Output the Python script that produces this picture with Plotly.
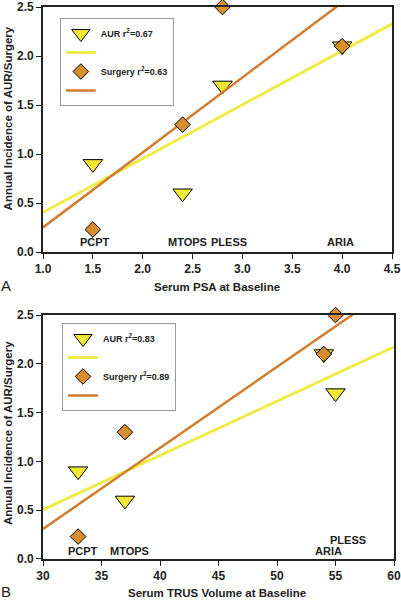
import numpy as np
import plotly.graph_objects as go

# ---------------- data ----------------
studies_a = ["PCPT", "MTOPS", "PLESS", "ARIA"]
psa_baseline = [1.5, 2.4, 2.8, 4.0]
aur_a = [0.9, 0.6, 1.7, 2.1]
surgery_a = [0.23, 1.3, 2.5, 2.1]

studies_b = ["PCPT", "MTOPS", "ARIA", "PLESS"]
trus_volume = [33, 37, 54, 55]
aur_b = [0.9, 0.6, 2.1, 1.7]
surgery_b = [0.23, 1.3, 2.1, 2.5]

legend_a = ["AUR r<sup>2</sup>=0.67", "Surgery r<sup>2</sup>=0.63"]
legend_b = ["AUR r<sup>2</sup>=0.83", "Surgery r<sup>2</sup>=0.89"]

x_range_a = [1.0, 4.5]
x_ticks_a = [1.0, 1.5, 2.0, 2.5, 3.0, 3.5, 4.0, 4.5]
x_range_b = [30, 60]
x_ticks_b = [30, 35, 40, 45, 50, 55, 60]
y_range = [0, 2.5]
y_ticks = [0.0, 0.5, 1.0, 1.5, 2.0, 2.5]

# label anchor x (data units) and vertical pixel offset
label_x_a = [1.52, 2.45, 2.87, 3.98]
label_shift_a = [2, 2, 2, 2]
label_x_b = [33.4, 37.35, 54.4, 56.1]
label_shift_b = [0, 0, 0, 11]

# ---------------- styles ----------------
FONT = "Liberation Sans, Arial, sans-serif"
TRI_FILL = "#F0E936"
AUR_LINE = "#EDED4A"
DIA_FILL = "#D88D2E"
SURG_LINE = "#D27D2E"


def fit_line(x, y, xr):
    slope, icpt = np.polyfit(x, y, 1)
    xs = np.array(xr, dtype=float)
    return xs, slope * xs + icpt


fig = go.Figure()


def add_panel(x, aur, surg, xr, names, xa, ya, leg):
    lx, ly = fit_line(x, aur, xr)
    sx, sy = fit_line(x, surg, xr)
    fig.add_trace(go.Scatter(
        x=x, y=aur, mode="markers", name=names[0], legend=leg, legendrank=1,
        marker=dict(symbol="triangle-down", size=17, color=TRI_FILL,
                    line=dict(color="black", width=1)),
        xaxis=xa, yaxis=ya, cliponaxis=False))
    fig.add_trace(go.Scatter(
        x=lx, y=ly, mode="lines", name=" ", legend=leg, legendrank=2,
        line=dict(color=AUR_LINE, width=3), xaxis=xa, yaxis=ya))
    fig.add_trace(go.Scatter(
        x=sx, y=sy, mode="lines", name=" ", legend=leg, legendrank=4,
        line=dict(color=SURG_LINE, width=2.5), xaxis=xa, yaxis=ya))
    fig.add_trace(go.Scatter(
        x=x, y=surg, mode="markers", name=names[1], legend=leg, legendrank=3,
        marker=dict(symbol="diamond", size=12, color=DIA_FILL,
                    line=dict(color="black", width=1)),
        xaxis=xa, yaxis=ya, cliponaxis=False))


add_panel(psa_baseline, aur_a, surgery_a, x_range_a, legend_a, "x", "y", "legend")
add_panel(trus_volume, aur_b, surgery_b, x_range_b, legend_b, "x2", "y2", "legend2")

axis_common = dict(showline=True, mirror=True, linecolor="#222", linewidth=1.6,
                   ticks="outside", ticklen=5, tickwidth=1.4, tickcolor="#222",
                   showgrid=False, zeroline=False, automargin=False,
                   tickfont=dict(family=FONT, size=12, color="#222", weight="bold"))

annotations = []
for name, lx_, sh in zip(studies_a, label_x_a, label_shift_a):
    annotations.append(dict(x=lx_, y=0, xref="x", yref="y", text=name,
                            showarrow=False, yanchor="bottom", yshift=sh,
                            font=dict(family=FONT, size=11, color="#222", weight="bold")))
for name, lx_, sh in zip(studies_b, label_x_b, label_shift_b):
    annotations.append(dict(x=lx_, y=0, xref="x2", yref="y2", text=name,
                            showarrow=False, yanchor="bottom", yshift=sh,
                            font=dict(family=FONT, size=11, color="#222", weight="bold")))

title_font = dict(family=FONT, size=11.5, color="#222", weight="bold")
annotations += [
    dict(x=0.4957, y=0.4928, xref="paper", yref="paper", text="Serum PSA at Baseline",
         showarrow=False, xanchor="center", yanchor="middle", font=title_font),
    dict(x=0.4957, y=-0.0616, xref="paper", yref="paper", text="Serum TRUS Volume at Baseline",
         showarrow=False, xanchor="center", yanchor="middle", font=title_font),
    dict(x=-0.1, y=0.798, xref="paper", yref="paper", text="Annual Incidence of AUR/Surgery",
         showarrow=False, textangle=-90, xanchor="center", yanchor="middle", font=title_font),
    dict(x=-0.1, y=0.228, xref="paper", yref="paper", text="Annual Incidence of AUR/Surgery",
         showarrow=False, textangle=-90, xanchor="center", yanchor="middle", font=title_font),
    dict(x=-0.105, y=0.496, xref="paper", yref="paper", text="A",
         showarrow=False, xanchor="center", yanchor="middle",
         font=dict(family=FONT, size=15, color="#222")),
    dict(x=-0.105, y=-0.0590, xref="paper", yref="paper", text="B",
         showarrow=False, xanchor="center", yanchor="middle",
         font=dict(family=FONT, size=15, color="#222")),
]

legend_common = dict(bgcolor="rgba(255,255,255,0.9)", bordercolor="#999", borderwidth=1,
                     font=dict(family=FONT, size=9, color="#222", weight="bold"),
                     xanchor="left", yanchor="top", tracegroupgap=0, traceorder="normal")

fig.update_layout(
    width=401, height=600,
    margin=dict(l=43, r=7, t=7, b=41, autoexpand=False),
    plot_bgcolor="white", paper_bgcolor="white",
    showlegend=True,
    xaxis=dict(domain=[0, 0.9943], range=x_range_a, tickvals=x_ticks_a, tickformat=".1f",
               anchor="y", **axis_common),
    yaxis=dict(domain=[0.556, 1.0], range=y_range, tickvals=y_ticks, tickformat=".1f",
               anchor="x", **axis_common),
    xaxis2=dict(domain=[0, 1.0], range=x_range_b, tickvals=x_ticks_b, tickformat="d",
                anchor="y2", **axis_common),
    yaxis2=dict(domain=[0, 0.442], range=y_range, tickvals=y_ticks, tickformat=".1f",
                anchor="x2", **axis_common),
    legend=dict(x=0.048, y=0.98, **legend_common),
    legend2=dict(x=0.054, y=0.4275, **legend_common),
    annotations=annotations,
)

fig.write_html("out.html", config={"displayModeBar": False},
               post_script="document.body.style.margin='0';document.body.style.padding='0';")
